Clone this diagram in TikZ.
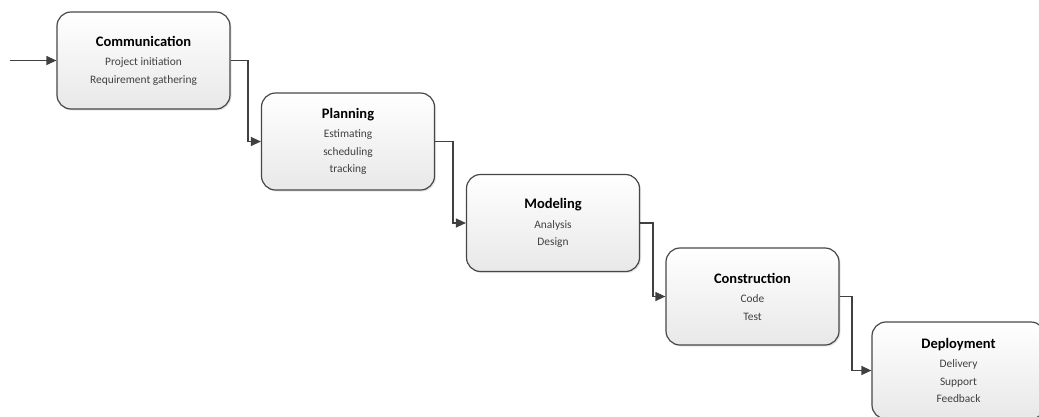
\documentclass[tikz,border=0pt]{standalone}
\usepackage{fontspec}
\setmainfont{Carlito}
\usetikzlibrary{arrows.meta, shadows}

\newcommand{\phasetitle}[1]{{\fontsize{14.5}{17.5}\selectfont\bfseries\color{black}#1}\\[2pt]}

\begin{document}
\begin{tikzpicture}[x=1pt, y=-1pt,
    phase/.style={draw=black!72, line width=1.2pt, rounded corners=14pt,
        top color=white, bottom color=black!9,
        drop shadow={opacity=0.2, shadow xshift=1.5pt, shadow yshift=-1.5pt},
        minimum width=173pt, minimum height=97pt, align=center,
        text=black!75, font=\fontsize{11.4}{17.5}\selectfont},
    flow/.style={draw=black!75, line width=1.2pt, -{Triangle[length=10pt, width=9pt]}}]

    \path[use as bounding box, clip] (0,0) rectangle (1039,416);

    \coordinate (S) at (10,60.5);
    \coordinate (C) at (143.5,60.5);
    \coordinate (P) at (348,141.5);
    \coordinate (M) at (553,223);
    \coordinate (K) at (752.5,296.5);
    \coordinate (D) at (958.5,370.5);

    \coordinate (E1) at (248,60.5);
    \coordinate (E2) at (453,141.5);
    \coordinate (E3) at (653,223);
    \coordinate (E4) at (852,296.5);

    \node[phase] (comm) at (C) {\phasetitle{Communication}Project initiation\\Requirement gathering};
    \node[phase] (plan) at (P) {\phasetitle{Planning}Estimating\\scheduling\\tracking};
    \node[phase] (model) at (M) {\phasetitle{Modeling}Analysis\\Design};
    \node[phase] (constr) at (K) {\phasetitle{Construction}Code\\Test};
    \node[phase] (deploy) at (D) {\phasetitle{Deployment}Delivery\\Support\\Feedback};

    \draw[flow] (S) -- (comm.west);
    \draw[flow] (comm.east) -- (E1) |- (plan.west);
    \draw[flow] (plan.east) -- (E2) |- (model.west);
    \draw[flow] (model.east) -- (E3) |- (constr.west);
    \draw[flow] (constr.east) -- (E4) |- (deploy.west);

\end{tikzpicture}
\end{document}
